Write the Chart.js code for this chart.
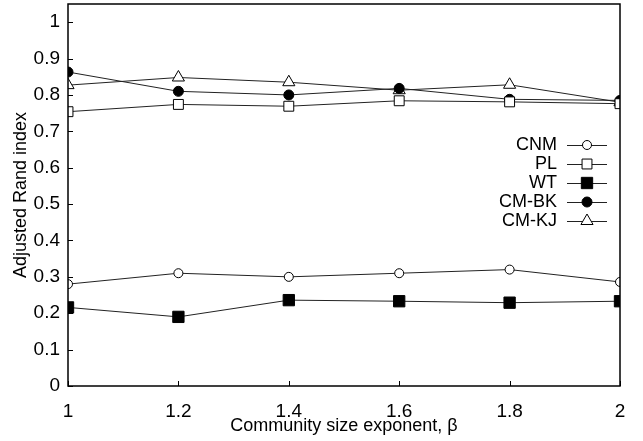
<!DOCTYPE html>
<html>
<head>
<meta charset="utf-8">
<script src="https://cdn.jsdelivr.net/npm/chart.js@4"></script>
<style>
  html, body { margin: 0; padding: 0; background: #fff; }
  #wrap { width: 643px; height: 441px; }
</style>
</head>
<body>
<div id="wrap"><canvas id="chart"></canvas></div>
<script>
// values
const betas = [1, 1.2, 1.4, 1.6, 1.8, 2];
const cnm  = [0.280, 0.310, 0.300, 0.310, 0.320, 0.286];
const pl   = [0.754, 0.774, 0.769, 0.784, 0.781, 0.776];
const wt   = [0.216, 0.190, 0.236, 0.233, 0.229, 0.233];
const cmBK = [0.863, 0.810, 0.800, 0.818, 0.788, 0.785];
const cmKJ = [0.827, 0.848, 0.835, 0.813, 0.828, 0.780];
const xTicks = [1, 1.2, 1.4, 1.6, 1.8, 2];
const yTicks = [0, 0.1, 0.2, 0.3, 0.4, 0.5, 0.6, 0.7, 0.8, 0.9, 1];

const FONT = 'Liberation Sans, Arial, sans-serif';

function series(label, values, style, radius, filled) {
    return {
        label: label,
        data: betas.map((b, i) => ({ x: b, y: values[i] })),
        borderColor: '#222',
        borderWidth: 1,
        pointStyle: style,
        pointRadius: radius,
        pointHoverRadius: radius,
        pointBorderColor: '#000',
        pointBorderWidth: 1,
        pointBackgroundColor: filled ? '#000' : '#fff',
        tension: 0
    };
}

// box around plot area plus inward ticks
const frame = {
    id: 'frame',
    afterDatasetsDraw(chart) {
        const { ctx, chartArea: a, scales } = chart;
        ctx.save();
        ctx.strokeStyle = '#000';
        ctx.lineWidth = 1.5;
        ctx.strokeRect(a.left, a.top, a.right - a.left, a.bottom - a.top);
        ctx.lineWidth = 1;
        ctx.beginPath();
        yTicks.forEach(v => {
            const y = Math.round(scales.y.getPixelForValue(v)) + 0.5;
            ctx.moveTo(a.left, y); ctx.lineTo(a.left + 5, y);
        });
        xTicks.forEach(v => {
            const x = Math.round(scales.x.getPixelForValue(v)) + 0.5;
            ctx.moveTo(x, a.bottom); ctx.lineTo(x, a.bottom - 5);
        });
        ctx.stroke();
        ctx.restore();
    }
};

// gnuplot style key: text on the left, sample line on the right
const key = {
    id: 'key',
    afterDraw(chart) {
        const ctx = chart.ctx;
        ctx.save();
        ctx.font = '18px ' + FONT;
        ctx.textAlign = 'right';
        ctx.textBaseline = 'middle';
        chart.data.datasets.forEach((ds, i) => {
            const y = 145 + i * 19;
            ctx.fillStyle = '#000';
            ctx.fillText(ds.label, 557, y);
            ctx.strokeStyle = '#222';
            ctx.lineWidth = 1;
            ctx.beginPath();
            ctx.moveTo(567, y + 0.5); ctx.lineTo(607, y + 0.5);
            ctx.stroke();
            ctx.fillStyle = ds.pointBackgroundColor;
            ctx.strokeStyle = '#000';
            Chart.helpers.drawPoint(ctx, {
                pointStyle: ds.pointStyle,
                radius: ds.pointRadius,
                borderWidth: 1
            }, 587, y);
        });
        ctx.restore();
    }
};

new Chart(document.getElementById('chart'), {
    type: 'line',
    data: {
        datasets: [
            series('CNM', cnm, 'circle', 4.5, false),
            series('PL', pl, 'rect', 7, false),
            series('WT', wt, 'rect', 8, true),
            series('CM-BK', cmBK, 'circle', 5, true),
            series('CM-KJ', cmKJ, 'triangle', 7, false)
        ]
    },
    options: {
        responsive: true,
        maintainAspectRatio: false,
        animation: false,
        layout: { autoPadding: false, padding: { top: 4, right: 23, left: 0, bottom: 0 } },
        plugins: {
            legend: { display: false },
            tooltip: { enabled: false }
        },
        scales: {
            x: {
                type: 'linear',
                min: 1,
                max: 2,
                afterBuildTicks: s => { s.ticks = xTicks.map(v => ({ value: v })); },
                afterFit: s => { s.height = 55; s.paddingLeft = 0; s.paddingRight = 0; },
                grid: { display: false, drawTicks: false },
                border: { display: false },
                ticks: {
                    padding: 14,
                    color: '#000',
                    font: { family: FONT, size: 19 },
                    callback: v => String(+v.toFixed(1))
                },
                title: {
                    display: true,
                    text: 'Community size exponent, β',
                    color: '#000',
                    font: { family: FONT, size: 18 },
                    padding: { top: 0, bottom: 4 }
                }
            },
            y: {
                min: 0,
                max: 1.05,
                afterBuildTicks: s => { s.ticks = yTicks.map(v => ({ value: v })); },
                afterFit: s => { s.width = 68; s.paddingTop = 0; s.paddingBottom = 0; },
                grid: { display: false, drawTicks: false },
                border: { display: false },
                ticks: {
                    padding: 8,
                    color: '#000',
                    font: { family: FONT, size: 19 },
                    callback: v => String(+v.toFixed(1))
                },
                title: {
                    display: true,
                    text: 'Adjusted Rand index',
                    color: '#000',
                    font: { family: FONT, size: 18 },
                    padding: { top: 10, bottom: 0 }
                }
            }
        }
    },
    plugins: [frame, key]
});
</script>
</body>
</html>
